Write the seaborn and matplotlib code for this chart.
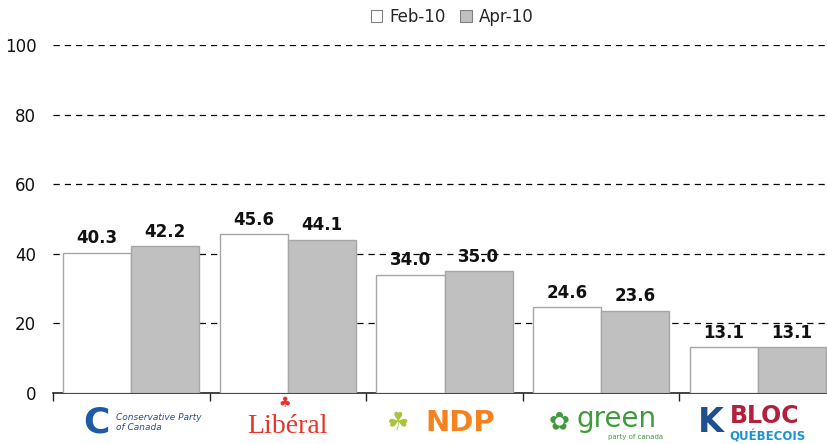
import pandas as pd
import matplotlib
matplotlib.use("Agg")
import matplotlib.pyplot as plt
import seaborn as sns
from matplotlib.patches import Patch

parties = ["Conservative", "Liberal", "NDP", "Green", "Bloc"]
periods = ["Feb-10", "Apr-10"]
feb_10 = [40.3, 45.6, 34.0, 24.6, 13.1]
apr_10 = [42.2, 44.1, 35.0, 23.6, 13.1]
y_ticks = [0, 20, 40, 60, 80, 100]


def BuildFrame():
    rows = []
    for p, a, b in zip(parties, feb_10, apr_10):
        rows.append({"party": p, "period": periods[0], "value": a})
        rows.append({"party": p, "period": periods[1], "value": b})
    return pd.DataFrame(rows)


def BarChart():
    df = BuildFrame()
    sns.set_style("white")
    plt.rcParams["font.family"] = ["DejaVu Sans"]

    fig = plt.figure(figsize=(8.27, 4.44), dpi=100)
    ax = fig.add_axes([53 / 827, 51 / 444, 783 / 827, 348 / 444])

    sns.barplot(data=df, x="party", y="value", hue="period",
                palette=["white", "#c0c0c0"], width=0.87, gap=0,
                edgecolor="#a6a6a6", linewidth=1.0, legend=False, ax=ax,
                zorder=3)

    for c in ax.containers:
        ax.bar_label(c, fmt="%.1f", padding=4, fontsize=12,
                     fontweight="bold", color="#111111")

    ax.set_ylim(0, 100)
    ax.set_xlim(-0.5, 4.5)
    ax.set_yticks(y_ticks)
    ax.set_yticklabels([str(t) for t in y_ticks], fontsize=12, color="#111111")
    ax.tick_params(axis="y", length=0, pad=12)
    for t in y_ticks[1:]:
        ax.axhline(t, color="black", lw=0.9, ls=(0, (5, 4)), zorder=1)

    ax.set_xticks([-0.5, 0.5, 1.5, 2.5, 3.5, 4.5])
    ax.set_xticklabels([])
    ax.tick_params(axis="x", direction="out", length=6, width=1,
                   color="#222222", bottom=True)
    ax.set_xlabel("")
    ax.set_ylabel("")

    for s in ["top", "right", "left"]:
        ax.spines[s].set_visible(False)
    ax.spines["bottom"].set_color("#222222")
    ax.spines["bottom"].set_linewidth(1.2)

    # party "logos" as text under the axis
    tr = ax.get_xaxis_transform()
    ax.text(-0.22, -0.085, "C", transform=tr, ha="center", va="center",
            fontsize=26, fontweight="bold", color="#1f5aa6", clip_on=False)
    ax.text(-0.1, -0.085, "Conservative Party\nof Canada", transform=tr,
            ha="left", va="center", fontsize=6.5, style="italic",
            color="#2a4f8f", clip_on=False, linespacing=1.1)
    ax.text(1.0, -0.095, "Libéral", transform=tr, ha="center", va="center",
            fontsize=20, family="Liberation Serif", color="#e8332b",
            clip_on=False)
    ax.text(0.98, -0.03, "\u2663", transform=tr, ha="center", va="center",
            fontsize=10, color="#e8332b", clip_on=False)
    ax.text(1.7, -0.085, "\u2618", transform=tr, ha="center", va="center",
            fontsize=18, color="#a8c43a", clip_on=False)
    ax.text(2.1, -0.085, "NDP", transform=tr, ha="center", va="center",
            fontsize=21, fontweight="heavy", color="#f5821f", clip_on=False)
    ax.text(2.73, -0.085, "\u273F", transform=tr, ha="center", va="center",
            fontsize=18, color="#3f9b3a", clip_on=False)
    ax.text(3.1, -0.075, "green", transform=tr, ha="center", va="center",
            fontsize=20, color="#3f9b3a", clip_on=False)
    ax.text(3.22, -0.125, "party of canada", transform=tr, ha="center",
            va="center", fontsize=5, color="#3f9b3a", clip_on=False)
    ax.text(3.7, -0.085, "K", transform=tr, ha="center", va="center",
            fontsize=24, fontweight="bold", color="#1f4f8f", clip_on=False)
    ax.text(3.82, -0.065, "BLOC", transform=tr, ha="left", va="center",
            fontsize=17, fontweight="bold", color="#b3203d", clip_on=False)
    ax.text(3.82, -0.125, "QUÉBECOIS", transform=tr, ha="left",
            va="center", fontsize=8.5, fontweight="bold", color="#1c93d1",
            clip_on=False)

    handles = [Patch(facecolor="white", edgecolor="#808080", lw=0.8),
               Patch(facecolor="#c0c0c0", edgecolor="#808080", lw=0.8)]
    fig.legend(handles, periods, loc="center",
               bbox_to_anchor=(452 / 827, 1 - 17 / 444),
               ncol=2, frameon=False, fontsize=12, handlelength=0.7,
               handleheight=0.7, handletextpad=0.4, columnspacing=0.9)

    fig.savefig("out.png", dpi=100)


BarChart()
